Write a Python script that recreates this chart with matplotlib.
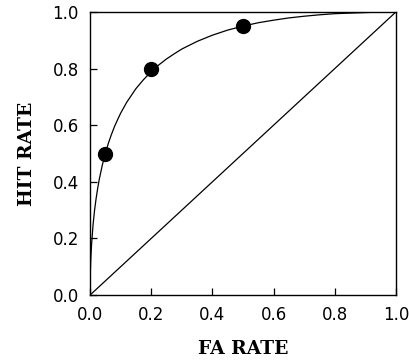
import numpy as np
import matplotlib.pyplot as plt

# ROC curve
fa_curve = [0.0, 0.0001, 0.0002, 0.0005, 0.001, 0.002, 0.003, 0.005, 0.01,
            0.015, 0.02, 0.025, 0.03, 0.04, 0.05, 0.06, 0.07, 0.08, 0.09,
            0.1, 0.12, 0.15, 0.175, 0.2, 0.225, 0.25, 0.275, 0.3, 0.35,
            0.4, 0.45, 0.5, 0.55, 0.6, 0.65, 0.7, 0.75, 0.8, 0.85, 0.9,
            0.95, 1.0]
hit_curve = [0.0, 0.019, 0.029, 0.050, 0.074, 0.109, 0.135, 0.176, 0.248,
             0.300, 0.341, 0.376, 0.407, 0.458, 0.5, 0.536, 0.567, 0.595, 0.619,
             0.642, 0.681, 0.729, 0.761, 0.789, 0.813, 0.834, 0.852, 0.869, 0.896,
             0.918, 0.936, 0.95, 0.962, 0.971, 0.979, 0.985, 0.990, 0.994, 0.996, 0.998,
             0.9995, 1.0]

# data points
fa_pts = [0.05, 0.2, 0.5]
hit_pts = [0.5, 0.8, 0.95]

# chance line
chance = [0.0, 1.0]

ticks = [0.0, 0.2, 0.4, 0.6, 0.8, 1.0]

fig = plt.figure(figsize=(4.09, 3.63), dpi=100)
ax = fig.add_axes([0.22, 0.187, 0.748, 0.78])

ax.plot(fa_curve, hit_curve, color="black", linewidth=0.9)
ax.plot(chance, chance, color="black", linewidth=0.9)
ax.plot(fa_pts, hit_pts, "o", color="black", markersize=10)

ax.set_xlim(0, 1)
ax.set_ylim(0, 1)
ax.set_xticks(ticks)
ax.set_yticks(ticks)
ax.set_xticklabels([f"{t:.1f}" for t in ticks], fontsize=12, family="DejaVu Sans")
ax.set_yticklabels([f"{t:.1f}" for t in ticks], fontsize=12, family="DejaVu Sans")
ax.tick_params(direction="in", length=5, width=0.9, top=False, right=False)
ax.tick_params(axis="x", pad=8)
ax.tick_params(axis="y", pad=8)
for s in ax.spines.values():
    s.set_linewidth(1.0)

ax.set_xlabel("FA RATE", fontsize=13.5, fontweight="bold", family="DejaVu Serif", labelpad=11)
ax.set_ylabel("HIT RATE", fontsize=13.5, fontweight="bold", family="DejaVu Serif", labelpad=12)

fig.savefig("out.png", dpi=100)
